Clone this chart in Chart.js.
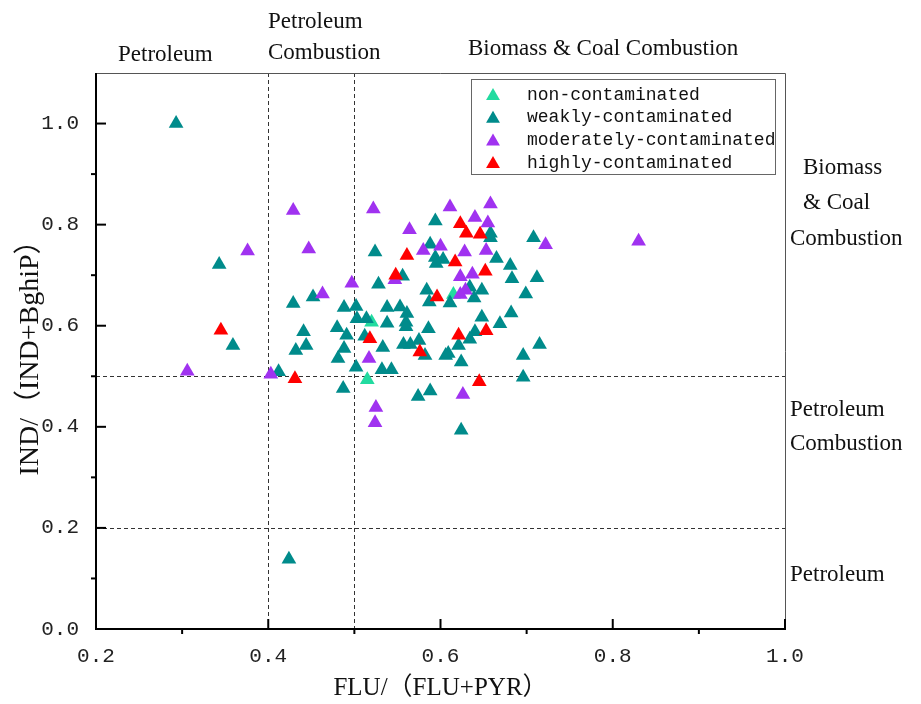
<!DOCTYPE html>
<html><head><meta charset="utf-8">
<script src="https://cdn.jsdelivr.net/npm/chart.js@4"></script>
<style>html,body{margin:0;padding:0;background:#fff}canvas{display:block}</style>
</head><body>
<canvas id="c" width="921" height="704"></canvas>
<script>
// ---- data ----
const SERIES_LABELS = ['non-contaminated', 'weakly-contaminated', 'moderately-contaminated', 'highly-contaminated'];
const SERIES_COLORS = ['#22dba0', '#008b8b', '#a032f0', '#ff0000'];

const nonX = [0.520, 0.515, 0.615];
const nonY = [0.607, 0.493, 0.662];

const weakX = [0.293,0.343,0.359,0.412,0.424,0.429,0.441,0.444,0.432,0.452,0.480,0.488,0.491,0.488,0.481,0.487,0.502,0.503,0.514,0.502,0.512,0.524,0.528,0.533,0.532,0.543,0.538,0.538,0.553,0.561,0.560,0.560,0.556,0.557,0.565,0.575,0.582,0.574,0.588,0.584,0.587,0.586,0.594,0.588,0.594,0.595,0.603,0.606,0.611,0.609,0.621,0.624,0.624,0.634,0.634,0.639,0.640,0.648,0.648,0.658,0.658,0.665,0.669,0.681,0.682,0.683,0.699,0.696,0.696,0.708,0.712,0.715];
const weakY = [1.000,0.721,0.561,0.509,0.138,0.644,0.588,0.561,0.551,0.657,0.596,0.636,0.581,0.555,0.535,0.476,0.638,0.614,0.614,0.518,0.579,0.746,0.682,0.557,0.513,0.513,0.636,0.605,0.637,0.624,0.607,0.598,0.698,0.563,0.563,0.571,0.541,0.460,0.471,0.670,0.647,0.594,0.807,0.761,0.735,0.723,0.731,0.541,0.645,0.545,0.561,0.528,0.393,0.573,0.676,0.655,0.588,0.670,0.617,0.783,0.774,0.733,0.604,0.719,0.625,0.693,0.663,0.541,0.498,0.774,0.695,0.563];

const modX = [0.306,0.403,0.376,0.429,0.447,0.463,0.497,0.522,0.517,0.525,0.524,0.547,0.564,0.580,0.600,0.611,0.628,0.623,0.637,0.640,0.653,0.655,0.658,0.722,0.830,0.623,0.629,0.626];
const modY = [0.510,0.504,0.748,0.828,0.752,0.663,0.684,0.831,0.535,0.438,0.408,0.691,0.790,0.749,0.757,0.835,0.746,0.697,0.702,0.814,0.749,0.803,0.841,0.760,0.767,0.662,0.670,0.464];

const highX = [0.345,0.431,0.518,0.548,0.561,0.576,0.596,0.617,0.621,0.623,0.630,0.646,0.652,0.653,0.645];
const highY = [0.591,0.495,0.574,0.700,0.739,0.548,0.657,0.726,0.581,0.802,0.783,0.781,0.708,0.590,0.489];

const X_TICKS = [0.2, 0.4, 0.6, 0.8, 1.0];
const X_MINOR = [0.3, 0.5, 0.7, 0.9];
const Y_TICKS = [0.0, 0.2, 0.4, 0.6, 0.8, 1.0];
const Y_MINOR = [0.1, 0.3, 0.5, 0.7, 0.9];
const X_DIVIDERS = [0.4, 0.5];
const Y_DIVIDERS = [0.2, 0.5];
const X_TITLE = 'FLU/（FLU+PYR）';
const Y_TITLE = 'IND/（IND+BghiP）';

// region annotations: text + anchor
const TOP_NOTES = [
  {text: 'Petroleum', x: 118, y: 55},
  {text: 'Petroleum', x: 268, y: 22},
  {text: 'Combustion', x: 268, y: 53},
  {text: 'Biomass & Coal Combustion', x: 468, y: 49}
];
const RIGHT_NOTES = [
  {text: 'Biomass', x: 803, y: 168},
  {text: '& Coal', x: 803, y: 203},
  {text: 'Combustion', x: 790, y: 239},
  {text: 'Petroleum', x: 790, y: 410},
  {text: 'Combustion', x: 790, y: 444},
  {text: 'Petroleum', x: 790, y: 575}
];

const pts = (xs, ys) => xs.map((x, i) => ({x: x, y: ys[i]}));
const seriesData = [pts(nonX, nonY), pts(weakX, weakY), pts(modX, modY), pts(highX, highY)];
const ORDER = [3, 2, 1, 0];

const SERIF = '"Liberation Serif", "Times New Roman", "Noto Sans CJK SC", serif';
const MONO = '"Liberation Mono", "DejaVu Sans Mono", monospace';

const decor = {
  id: 'decor',
  beforeDatasetsDraw(chart) {
    const {ctx, chartArea: a, scales: {x, y}} = chart;
    ctx.save();
    // dashed dividers
    ctx.strokeStyle = '#333';
    ctx.lineWidth = 1;
    ctx.setLineDash([4, 3]);
    X_DIVIDERS.forEach(v => {
      const px = Math.round(x.getPixelForValue(v)) + 0.5;
      ctx.beginPath(); ctx.moveTo(px, a.top); ctx.lineTo(px, a.bottom); ctx.stroke();
    });
    Y_DIVIDERS.forEach(v => {
      const py = Math.round(y.getPixelForValue(v)) + 0.5;
      ctx.beginPath(); ctx.moveTo(a.left, py); ctx.lineTo(a.right, py); ctx.stroke();
    });
    ctx.setLineDash([]);
    // thin top / right frame
    ctx.strokeStyle = '#555';
    ctx.lineWidth = 1;
    ctx.beginPath();
    ctx.moveTo(a.left, a.top + 0.5); ctx.lineTo(a.right + 0.5, a.top + 0.5);
    ctx.lineTo(a.right + 0.5, a.bottom);
    ctx.stroke();
    // main axes
    ctx.strokeStyle = '#000';
    ctx.lineWidth = 2;
    ctx.beginPath();
    ctx.moveTo(a.left, a.top); ctx.lineTo(a.left, a.bottom); ctx.lineTo(a.right + 1, a.bottom);
    ctx.stroke();
    // ticks
    ctx.lineWidth = 2;
    X_TICKS.forEach(v => {
      const px = x.getPixelForValue(v);
      ctx.beginPath(); ctx.moveTo(px, a.bottom); ctx.lineTo(px, a.bottom - 10); ctx.stroke();
    });
    X_MINOR.forEach(v => {
      const px = x.getPixelForValue(v);
      ctx.beginPath(); ctx.moveTo(px, a.bottom); ctx.lineTo(px, a.bottom + 5); ctx.stroke();
    });
    Y_TICKS.forEach(v => {
      const py = y.getPixelForValue(v);
      ctx.beginPath(); ctx.moveTo(a.left, py); ctx.lineTo(a.left + 10, py); ctx.stroke();
    });
    Y_MINOR.forEach(v => {
      const py = y.getPixelForValue(v);
      ctx.beginPath(); ctx.moveTo(a.left, py); ctx.lineTo(a.left - 5, py); ctx.stroke();
    });
    ctx.restore();
  },
  afterDraw(chart) {
    const {ctx} = chart;
    ctx.save();
    // annotations
    ctx.fillStyle = '#111';
    ctx.font = '23px ' + SERIF;
    ctx.textBaseline = 'middle';
    ctx.textAlign = 'left';
    TOP_NOTES.concat(RIGHT_NOTES).forEach(n => ctx.fillText(n.text, n.x, n.y));
    // legend box
    const bx = 471, by = 79, bw = 304, bh = 95;
    ctx.fillStyle = '#fff';
    ctx.fillRect(bx, by, bw, bh);
    ctx.strokeStyle = '#666';
    ctx.lineWidth = 1;
    ctx.strokeRect(bx + 0.5, by + 0.5, bw, bh);
    ctx.font = '18px ' + MONO;
    chart.data.datasets.forEach((ds, i) => {
      const cy = 94 + i * 22.7;
      ctx.fillStyle = ds.backgroundColor;
      const r = 8;
      ctx.beginPath();
      ctx.moveTo(493, cy + 2 - r);
      ctx.lineTo(493 + r * 0.866, cy + 2 + r / 2);
      ctx.lineTo(493 - r * 0.866, cy + 2 + r / 2);
      ctx.closePath();
      ctx.fill();
      ctx.fillStyle = '#111';
      ctx.fillText(ds.label, 527, cy + 1);
    });
    ctx.restore();
  }
};

new Chart(document.getElementById('c'), {
  type: 'scatter',
  data: {
    datasets: SERIES_LABELS.map((lab, i) => ({
      label: lab,
      data: seriesData[i],
      backgroundColor: SERIES_COLORS[i],
      borderColor: SERIES_COLORS[i],
      borderWidth: 0,
      pointStyle: 'triangle',
      pointRadius: 8.5,
      pointHoverRadius: 8.5,
      order: ORDER[i]
    }))
  },
  options: {
    responsive: false,
    animation: false,
    devicePixelRatio: 1,
    layout: {padding: {top: 73, right: 136, left: 0, bottom: 0}},
    plugins: {legend: {display: false}, tooltip: {enabled: false}},
    scales: {
      x: {
        type: 'linear', min: 0.2, max: 1.0,
        grid: {display: false}, border: {display: false},
        afterBuildTicks: s => { s.ticks = X_TICKS.map(v => ({value: v})); },
        afterFit: s => { s.height = 75; },
        ticks: {font: {family: MONO, size: 21}, color: '#222', padding: 7, maxRotation: 0,
                callback: v => Number(v).toFixed(1)},
        title: {display: true, text: X_TITLE, font: {family: SERIF, size: 25}, color: '#111',
                padding: {top: 0, bottom: 1}}
      },
      y: {
        type: 'linear', min: 0, max: 1.1,
        grid: {display: false}, border: {display: false},
        afterBuildTicks: s => { s.ticks = Y_TICKS.map(v => ({value: v})); },
        afterFit: s => { s.width = 96; },
        ticks: {font: {family: MONO, size: 21}, color: '#222', padding: 9,
                callback: v => Number(v).toFixed(1)},
        title: {display: true, text: Y_TITLE, font: {family: SERIF, size: 28}, color: '#111',
                padding: {top: 14, bottom: 0}}
      }
    }
  },
  plugins: [decor]
});
</script>
</body></html>
